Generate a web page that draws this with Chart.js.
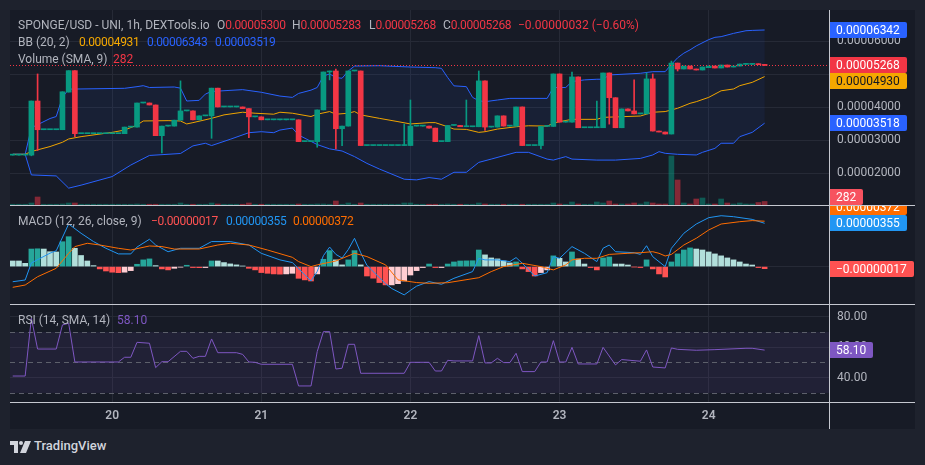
<!DOCTYPE html>
<html>
<head>
<meta charset="utf-8">
<title>SPONGE/USD - UNI, 1h</title>
<script src="https://cdn.jsdelivr.net/npm/chart.js@4.4.1/dist/chart.umd.min.js"></script>
<style>
  html, body { margin:0; padding:0; width:925px; height:465px; overflow:hidden; background:#1e222d; }
  body { position:relative; font-family: Roboto, "Liberation Sans", sans-serif; }
  #panel { position:absolute; left:10px; top:10px; width:905px; height:419px; background:#171b26; }
  canvas { position:absolute; left:10px; }
  .sep { position:absolute; left:10px; width:905px; height:1px; background:#c5c8d0; }
  #vline { position:absolute; left:829px; top:10px; width:1px; height:419px; background:#c5c8d0; }
  .lg { position:absolute; left:0; width:820px; height:16px; font-size:12px; line-height:16px; color:#b2b5be; white-space:pre; }
  .lg > span { position:absolute; top:0; }
  .lg b { font-weight:normal; }
  .num { letter-spacing:-0.35px; }
  .r { color:#f23645; }
  .bl { color:#2962ff; }
  .yl { color:#f5a800; }
  .mr { color:#ff5252; }
  .mb { color:#2196f3; }
  .mo { color:#ff6d00; }
  .pu { color:#7e57c2; }
  #tvlogo { position:absolute; left:10px; top:441px; }
  #tvtext { position:absolute; left:34px; top:438px; font-size:13px; font-weight:500; color:#d1d4dc; line-height:16px; }
</style>
</head>
<body>
<div id="panel"></div>
<canvas id="cMain" width="905" height="195" style="top:10px"></canvas>
<canvas id="cMacd" width="905" height="98" style="top:206px"></canvas>
<canvas id="cRsi" width="905" height="124" style="top:305px"></canvas>
<div class="sep" style="top:205px"></div>
<div class="sep" style="top:304px"></div>
<div class="sep" style="top:402px"></div>
<div id="vline"></div>

<div class="lg" style="top:17px">
  <span style="left:18px">SPONGE/USD - UNI, 1h, DEXTools.io</span>
  <span style="left:217px">O<b class="r num">0.00005300</b></span>
  <span style="left:292px">H<b class="r num">0.00005283</b></span>
  <span style="left:369px">L<b class="r num">0.00005268</b></span>
  <span style="left:443px">C<b class="r num">0.00005268</b></span>
  <span class="r" style="left:518px">−0.00000032 (−0.60%)</span>
</div>
<div class="lg" style="top:34px">
  <span style="left:18px">BB (20, 2)</span>
  <span class="yl num" style="left:79px">0.00004931</span>
  <span class="bl num" style="left:147px">0.00006343</span>
  <span class="bl num" style="left:215px">0.00003519</span>
</div>
<div class="lg" style="top:51px">
  <span style="left:18px">Volume (SMA, 9)</span>
  <span class="r" style="left:113px">282</span>
</div>
<div class="lg" style="top:213px">
  <span style="left:18px">MACD (12, 26, close, 9)</span>
  <span class="mr num" style="left:151px">−0.00000017</span>
  <span class="mb num" style="left:226px">0.00000355</span>
  <span class="mo num" style="left:293px">0.00000372</span>
</div>
<div class="lg" style="top:312px">
  <span style="left:18px">RSI (14, SMA, 14)</span>
  <span class="pu" style="left:117px">58.10</span>
</div>

<svg id="tvlogo" width="22" height="12" viewBox="0 0 22 12">
  <path d="M0 0H8V12H4V4H0Z" fill="#d1d4dc"/>
  <circle cx="11" cy="2" r="2" fill="#d1d4dc"/>
  <path d="M15 0H21L16 12H10Z" fill="#d1d4dc"/>
</svg>
<div id="tvtext">TradingView</div>

<script>
// ---------------- DATA (prices in units of 0.00001, MACD in units of 0.000001) ----------------
const PRICE_UNIT = 1e-5;
const MACD_UNIT = 1e-6;

// hourly candles, index 0 = 19th 08:00 ... index 121 = 24th 09:00
const dayIdx = [16, 40, 64, 88, 112];
const dayLabels = ['20', '21', '22', '23', '24'];
const priceTicks = [2, 3, 4, 5, 6];
const rsiTicks = [40, 60, 80];
const rsiLevels = [70, 50, 30];

const opens = [
  2.55,2.55,2.55,2.55,4.19,3.32,3.32,3.32,3.32,4.46,
  5.11,3.20,3.20,3.20,3.20,3.20,3.20,3.20,3.20,3.40,
  3.40,4.13,4.13,4.07,3.14,3.43,3.43,3.61,3.89,3.89,
  3.62,3.74,3.74,4.58,4.01,4.01,4.01,4.01,3.96,3.71,
  3.71,3.62,3.62,3.62,3.62,3.62,3.62,2.96,2.96,2.96,
  3.92,5.07,5.10,3.35,3.43,5.10,5.10,2.84,2.84,2.84,
  2.84,2.84,2.84,2.84,2.84,3.43,3.43,3.43,3.37,2.96,
  2.96,3.45,3.45,3.41,3.41,3.41,4.80,3.40,3.40,3.74,
  3.43,3.43,4.01,2.84,2.84,2.84,3.42,3.42,5.01,3.55,
  3.55,4.92,3.38,3.38,3.38,3.38,5.04,4.29,3.38,3.95,
  3.89,3.80,3.80,4.86,3.28,3.25,3.19,5.34,5.16,5.25,
  5.16,5.13,5.20,5.25,5.19,5.28,5.22,5.25,5.30,5.30,
  5.32,5.30
];
const highs = [
  2.55,2.55,2.55,4.19,5.01,3.32,3.32,3.32,4.47,5.11,
  5.11,3.20,3.20,3.20,3.20,3.20,3.20,3.20,3.40,3.40,
  4.13,4.13,4.13,4.07,3.43,3.43,3.61,4.80,3.89,3.89,
  3.74,3.74,4.58,4.58,4.01,4.01,4.01,4.01,3.96,3.71,
  3.71,3.62,3.62,3.62,3.62,3.62,3.62,2.96,2.96,3.92,
  5.07,5.10,5.16,3.43,5.10,5.10,5.10,2.84,2.84,2.84,
  2.84,2.84,2.84,3.49,4.22,3.43,3.43,3.43,3.37,2.96,
  3.45,3.45,3.45,4.22,3.41,5.10,4.80,3.40,3.74,3.74,
  3.43,4.01,4.01,2.84,2.84,3.42,3.42,5.01,5.01,3.55,
  5.07,4.92,3.38,3.38,4.19,5.04,5.04,4.29,3.95,3.95,
  4.83,3.80,5.04,5.01,3.28,3.25,5.40,5.34,5.25,5.25,
  5.16,5.22,5.25,5.25,5.28,5.28,5.25,5.31,5.32,5.31,
  5.32,5.30
];
const lows = [
  2.55,2.55,2.55,2.53,2.69,3.32,3.32,3.32,3.32,4.46,
  3.11,3.20,3.20,3.20,3.20,3.20,3.20,3.20,3.20,3.40,
  3.40,4.13,4.07,3.14,2.62,3.43,3.43,3.61,3.89,3.62,
  3.62,3.74,3.06,4.01,4.01,4.01,4.01,3.96,3.08,3.71,
  3.62,3.62,3.62,3.62,3.62,3.62,2.96,2.96,2.96,2.79,
  3.92,4.83,2.74,2.84,3.43,5.10,2.84,2.84,2.84,2.84,
  2.84,2.84,2.84,2.84,2.84,3.43,3.43,3.37,2.96,2.96,
  2.96,3.45,3.41,3.41,3.41,3.41,3.30,3.40,3.40,3.43,
  3.43,3.43,2.84,2.84,2.84,2.74,3.42,3.42,3.55,3.55,
  3.55,3.38,3.38,3.38,3.38,3.38,3.49,3.38,3.38,3.89,
  3.80,3.80,3.80,3.28,3.25,3.19,3.19,5.10,5.16,5.16,
  5.13,5.13,5.20,5.19,5.19,5.22,5.22,5.25,5.30,5.30,
  5.29,5.268
];
const closes = [
  2.55,2.55,2.55,4.19,3.32,3.32,3.32,3.32,4.47,5.11,
  3.20,3.20,3.20,3.20,3.20,3.20,3.20,3.20,3.40,3.40,
  4.13,4.13,4.07,3.14,3.43,3.43,3.61,3.89,3.89,3.62,
  3.74,3.74,4.58,4.01,4.01,4.01,4.01,3.96,3.71,3.71,
  3.62,3.62,3.62,3.62,3.62,3.62,2.96,2.96,2.96,3.92,
  5.07,5.10,3.35,3.43,5.10,5.10,2.84,2.84,2.84,2.84,
  2.84,2.84,2.84,2.84,3.43,3.43,3.43,3.37,2.96,2.96,
  3.45,3.45,3.41,3.41,3.41,4.80,3.40,3.40,3.74,3.43,
  3.43,4.01,2.84,2.84,2.84,3.42,3.42,5.01,3.55,3.55,
  4.92,3.38,3.38,3.38,3.38,5.04,4.29,3.38,3.95,3.89,
  3.80,3.80,4.86,3.28,3.25,3.19,5.34,5.16,5.25,5.16,
  5.13,5.22,5.25,5.19,5.28,5.22,5.25,5.31,5.32,5.31,
  5.29,5.268
];
const volumes = [
  60,60,60,160,640,60,60,60,80,160,
  160,60,60,60,60,60,60,60,60,60,
  80,60,60,60,60,60,60,160,60,60,
  60,60,160,80,60,60,60,60,160,60,
  60,60,60,60,60,60,80,60,60,80,
  80,60,320,60,160,60,160,60,60,60,
  60,60,60,160,160,60,60,60,60,60,
  80,60,60,60,60,160,80,60,60,60,
  60,60,60,60,60,60,60,160,80,60,
  240,80,60,60,240,160,320,80,80,80,
  160,80,240,160,80,80,3920,2000,160,80,
  480,560,80,80,480,160,80,160,80,80,
  200,282
];

// Bollinger Bands (20, 2): [candle index, value] read at the vertices of each line
const bbUpperPts = [
  [0,2.575],[2,2.575],[3,3.38],[6,3.66],[7,3.72],[8,4.30],[9,4.55],[18,4.575],[20,4.625],[21,4.655],
  [22,4.60],[26,4.615],[27,4.58],[28,4.19],[30,4.21],[31,4.40],[32,4.48],[37,4.535],[40,4.455],[43,4.34],
  [45,4.30],[46,4.42],[48,4.52],[49,4.60],[50,4.95],[51,5.01],[52,4.90],[53,4.88],[54,5.10],[55,5.25],
  [59,5.26],[64,5.22],[68,5.20],[69,5.18],[70,4.90],[71,4.65],[73,4.625],[74,4.30],[75,4.20],[76,4.17],
  [78,4.22],[80,4.27],[86,4.27],[87,4.60],[89,4.60],[90,4.78],[92,4.83],[94,4.85],[95,4.85],[96,4.98],
  [101,5.03],[103,5.08],[105,5.08],[106,5.30],[107,5.50],[108,5.64],[109,5.74],[110,5.86],[112,6.05],[113,6.12],
  [114,6.14],[116,6.24],[118,6.32],[119,6.33],[121,6.342]
];
const bbBasisPts = [
  [0,2.575],[2,2.575],[3,2.66],[6,2.81],[8,2.94],[9,3.04],[11,3.11],[16,3.24],[18,3.31],[20,3.46],
  [21,3.585],[25,3.595],[27,3.585],[28,3.495],[29,3.535],[32,3.665],[34,3.77],[37,3.85],[39,3.82],[42,3.79],
  [43,3.85],[45,3.82],[48,3.72],[49,3.79],[51,3.87],[52,3.79],[54,3.82],[55,3.87],[56,3.77],[59,3.665],
  [62,3.565],[64,3.495],[67,3.535],[68,3.535],[70,3.41],[71,3.34],[73,3.33],[75,3.24],[76,3.26],[78,3.34],
  [81,3.41],[83,3.44],[86,3.43],[87,3.515],[88,3.565],[90,3.635],[94,3.635],[95,3.695],[98,3.715],[101,3.735],
  [103,3.85],[105,3.87],[107,3.97],[109,4.12],[110,4.17],[112,4.30],[114,4.50],[116,4.555],[117,4.655],[119,4.755],
  [121,4.93]
];
const bbLowerPts = [
  [0,2.575],[2,2.575],[3,1.95],[7,1.92],[9,1.55],[11,1.64],[16,1.90],[19,2.25],[22,2.54],[27,2.60],
  [29,2.83],[31,2.91],[32,2.84],[35,3.03],[38,3.23],[40,3.26],[42,3.23],[43,3.31],[45,3.37],[46,3.16],
  [49,2.87],[51,2.74],[53,2.675],[55,2.505],[57,2.30],[59,2.13],[63,1.82],[65,1.80],[67,1.87],[69,1.82],
  [71,2.03],[73,2.03],[75,2.33],[77,2.43],[81,2.635],[83,2.635],[86,2.43],[87,2.40],[89,2.505],[90,2.43],
  [94,2.40],[97,2.40],[101,2.45],[103,2.555],[104,2.655],[105,2.605],[107,2.575],[110,2.555],[111,2.635],[113,2.755],
  [114,2.91],[116,2.91],[117,3.11],[119,3.24],[121,3.518]
];

// MACD (12, 26, close, 9)
const macdHist = [
  0.46,0.46,0.27,1.44,1.46,1.44,1.22,1.20,2.04,2.45,
  1.50,0.91,0.46,0.08,-0.19,-0.36,-0.46,-0.50,-0.46,-0.33,
  0.19,0.55,0.63,0.08,-0.19,-0.27,-0.14,-0.05,0.11,-0.08,
  -0.09,-0.08,0.46,0.46,0.33,0.22,0.14,0.05,-0.14,-0.27,
  -0.49,-0.55,-0.60,-0.62,-0.60,-0.55,-0.96,-1.09,-1.18,-0.60,
  0.60,1.31,0.55,0.14,0.55,1.31,0.14,-0.77,-0.95,-1.31,
  -1.50,-1.50,-1.40,-1.18,-0.69,-0.33,-0.08,0.21,-0.08,-0.08,
  0.21,0.38,0.46,0.47,0.48,1.36,0.96,0.71,0.63,0.46,
  0.30,0.38,-0.19,-0.41,-0.77,-0.49,-0.27,0.88,0.68,0.38,
  1.20,0.63,0.21,-0.08,-0.27,0.71,0.79,0.21,0.21,0.13,
  -0.03,-0.08,0.55,-0.19,-0.60,-0.85,0.38,1.04,1.36,1.53,
  1.44,1.36,1.20,1.04,0.88,0.71,0.55,0.38,0.21,0.13,
  -0.08,-0.17
];
const macdLinePts = [
  [0,-1.24],[2,-1.10],[3,0.30],[6,1.10],[7,1.30],[9,3.49],[11,2.73],[13,2.05],[15,1.50],[17,1.04],
  [19,1.04],[20,1.60],[22,2.24],[23,1.77],[25,1.22],[27,1.50],[30,1.50],[32,2.05],[35,2.05],[38,1.77],
  [40,1.09],[43,0.55],[45,0.33],[48,-1.18],[49,-0.40],[50,0.90],[51,1.60],[52,1.00],[53,0.70],[54,1.40],
  [55,2.32],[56,1.14],[57,0.10],[59,-0.90],[60,-1.40],[61,-1.80],[63,-2.32],[64,-1.95],[65,-1.60],[67,-1.23],
  [69,-1.45],[71,-0.96],[74,-0.41],[75,0.68],[76,0.55],[78,0.55],[80,0.41],[81,0.74],[82,0.27],[84,-0.77],
  [86,-0.50],[87,0.81],[88,0.68],[90,1.64],[92,1.09],[94,0.41],[95,1.50],[96,1.77],[97,1.22],[100,1.14],
  [101,1.00],[102,1.71],[103,0.81],[105,0.00],[106,1.50],[108,2.73],[110,3.49],[112,4.01],[114,4.17],[116,4.09],
  [119,3.87],[121,3.55]
];
const signalPts = [
  [0,-1.70],[2,-1.51],[4,-0.83],[7,-0.14],[9,1.09],[10,1.64],[12,1.91],[14,1.77],[17,1.50],[19,1.36],
  [22,1.69],[24,1.64],[26,1.44],[30,1.44],[33,1.77],[35,1.91],[38,1.77],[41,1.36],[45,0.76],[46,0.41],
  [48,0.00],[49,0.14],[52,0.46],[55,1.09],[57,0.82],[60,0.14],[62,-1.09],[65,-1.31],[67,-1.37],[70,-1.32],
  [75,-0.91],[77,-0.41],[79,0.00],[82,0.27],[85,0.00],[87,-0.27],[89,0.14],[90,0.55],[92,0.68],[94,0.68],
  [96,1.00],[99,1.09],[101,1.14],[103,1.22],[104,1.09],[105,0.87],[106,1.00],[108,1.77],[110,2.32],[112,3.00],
  [114,3.49],[117,3.68],[119,3.77],[121,3.72]
];

// RSI (14)
const rsiPts = [
  [0,41.1],[2,41.1],[3,79.0],[4,58.8],[7,58.8],[8,74.6],[9,75.7],[10,50.3],[17,50.3],[18,53.4],
  [19,53.4],[20,63.2],[22,62.6],[23,46.6],[24,50.5],[25,50.5],[27,57.3],[28,57.3],[29,52.7],[30,54.0],
  [31,54.0],[32,65.4],[33,56.4],[36,56.4],[37,55.3],[38,50.3],[39,50.1],[40,48.8],[45,48.8],[46,34.6],
  [48,34.6],[49,57.1],[50,70.2],[51,70.2],[52,45.7],[53,46.2],[54,61.9],[55,61.9],[56,42.9],[63,42.9],
  [64,50.1],[67,50.1],[68,44.4],[69,44.4],[70,51.4],[71,51.0],[74,51.0],[75,67.6],[76,49.7],[77,49.7],
  [78,52.7],[79,49.9],[80,49.9],[81,56.0],[82,44.0],[84,44.0],[85,50.3],[86,50.3],[87,64.3],[88,50.3],
  [89,50.3],[90,59.9],[91,49.0],[94,49.0],[95,59.9],[97,48.4],[98,51.9],[101,50.8],[102,58.2],[103,47.0],
  [105,46.4],[106,59.5],[107,58.6],[110,58.0],[113,58.4],[118,59.3],[119,59.3],[121,58.1]
];

// ---------------- STYLE / LAYOUT ----------------
const FONT = 'Roboto, "Liberation Sans", sans-serif';
const GRID = '#262a36';
const TICK = '#b2b5be';
const UP = '#089981', DOWN = '#f23645';
const VOL_UP = 'rgba(8,153,129,0.5)', VOL_DOWN = 'rgba(242,54,69,0.5)';
const X_MIN = -0.44, X_MAX = 131.36;
const PRICE_MIN = 1.039, PRICE_MAX = 6.948, VOL_MAX = 15600;
const MACD_MIN = -3.066, MACD_MAX = 4.967;
const RSI_MIN = 24.07, RSI_MAX = 87.67;
const AXIS_W = 86;

const idx = opens.map((_, i) => i);
const lastOf = a => a[a.length - 1];
const isUp = i => closes[i] >= opens[i];
const candleColors = idx.map(i => isUp(i) ? UP : DOWN);
const fmtPrice = v => (v * PRICE_UNIT).toFixed(8);
const fmtMacd = v => { const s = (Math.abs(v) * MACD_UNIT).toFixed(8); return (v < 0 ? '\u2212' : '') + s; };
const pts = arr => arr.map(([x, y]) => ({ x, y }));

const histColors = macdHist.map((v, i) => {
  const prev = i > 0 ? macdHist[i - 1] : v;
  if (v >= 0) return v > prev ? '#26a69a' : '#b2dfdb';
  return v < prev ? '#ff5252' : '#ffcdd2';
});

function xScale(showLabels) {
  return {
    type: 'linear', min: X_MIN, max: X_MAX, offset: false,
    grid: { color: GRID, drawTicks: false, offset: false },
    border: { display: false },
    ticks: {
      display: showLabels, autoSkip: false, maxRotation: 0, minRotation: 0, padding: 7,
      color: TICK, font: { family: FONT, size: 12, weight: '600' },
      callback: v => { const k = dayIdx.indexOf(v); return k >= 0 ? dayLabels[k] : ''; }
    },
    afterBuildTicks: s => { s.ticks = dayIdx.map(v => ({ value: v })); },
    afterFit: s => { s.height = showLabels ? 27 : 0; s.paddingLeft = 0; s.paddingRight = 0; }
  };
}
function yScale(min, max, ticks, fmt, showLabels) {
  return {
    type: 'linear', position: 'right', min, max,
    grid: { color: GRID, drawTicks: false },
    border: { display: false },
    ticks: { display: showLabels, padding: 8, color: TICK, font: { family: FONT, size: 12 }, callback: fmt },
    afterBuildTicks: s => { s.ticks = ticks.map(v => ({ value: v })); },
    afterFit: s => { s.width = AXIS_W; s.paddingTop = 0; s.paddingBottom = 0; }
  };
}

// ---------------- PLUGINS ----------------
const bandFill = {
  id: 'bandFill',
  beforeDatasetsDraw(chart, args, o) {
    if (o.upper === undefined) return;
    const up = chart.getDatasetMeta(o.upper).data, lo = chart.getDatasetMeta(o.lower).data;
    const ctx = chart.ctx, ca = chart.chartArea;
    ctx.save();
    ctx.beginPath(); ctx.rect(ca.left, ca.top, ca.width, ca.height); ctx.clip();
    ctx.beginPath();
    up.forEach((p, k) => k ? ctx.lineTo(p.x, p.y) : ctx.moveTo(p.x, p.y));
    for (let k = lo.length - 1; k >= 0; k--) ctx.lineTo(lo[k].x, lo[k].y);
    ctx.closePath();
    ctx.fillStyle = o.color; ctx.fill();
    ctx.restore();
  }
};
const rsiBand = {
  id: 'rsiBand',
  beforeDatasetsDraw(chart, args, o) {
    if (!o.levels) return;
    const ctx = chart.ctx, ca = chart.chartArea, y = chart.scales.y;
    const yTop = y.getPixelForValue(o.levels[0]), yBot = y.getPixelForValue(o.levels[o.levels.length - 1]);
    ctx.save();
    ctx.fillStyle = o.fill;
    ctx.fillRect(ca.left, yTop, ca.width, yBot - yTop);
    ctx.strokeStyle = o.line; ctx.lineWidth = 1; ctx.setLineDash([5, 4]);
    o.levels.forEach(l => {
      const py = Math.round(y.getPixelForValue(l)) + 0.5;
      ctx.beginPath(); ctx.moveTo(ca.left, py); ctx.lineTo(ca.right, py); ctx.stroke();
    });
    ctx.restore();
  }
};
const priceLine = {
  id: 'priceLine',
  afterDatasetsDraw(chart, args, o) {
    if (o.value === undefined) return;
    const ctx = chart.ctx, ca = chart.chartArea;
    const py = Math.round(chart.scales.y.getPixelForValue(o.value)) + 0.5;
    ctx.save();
    ctx.strokeStyle = o.color; ctx.lineWidth = 1; ctx.setLineDash([1, 2]);
    ctx.beginPath(); ctx.moveTo(ca.left, py); ctx.lineTo(ca.right, py); ctx.stroke();
    ctx.restore();
  }
};
const valueTags = {
  id: 'valueTags',
  afterDraw(chart, args, o) {
    const items = o.items || [];
    const ctx = chart.ctx, ca = chart.chartArea, H = 16;
    ctx.save();
    ctx.font = '12px ' + FONT;
    ctx.textBaseline = 'middle';
    const placed = [];
    items.forEach(it => {
      let y = chart.scales[it.axis].getPixelForValue(it.value);
      placed.forEach(p => { if (Math.abs(y - p) < H) y = (y <= p) ? p - H : p + H; });
      if (it.clampBottom) y = Math.min(y, ca.bottom - H / 2);
      placed.push(y);
      const w = Math.round(ctx.measureText(it.text).width + 14);
      const x = Math.round(ca.right), top = Math.round(y - H / 2);
      ctx.fillStyle = it.bg;
      ctx.beginPath();
      ctx.moveTo(x, top); ctx.lineTo(x + w - 2, top); ctx.quadraticCurveTo(x + w, top, x + w, top + 2);
      ctx.lineTo(x + w, top + H - 2); ctx.quadraticCurveTo(x + w, top + H, x + w - 2, top + H);
      ctx.lineTo(x, top + H); ctx.closePath(); ctx.fill();
      ctx.fillStyle = it.fg;
      ctx.fillText(it.text, x + 7, top + H / 2 + 0.5);
    });
    ctx.restore();
  }
};

const common = {
  responsive: false, animation: false, devicePixelRatio: 1, events: [],
  layout: { padding: 0, autoPadding: false }
};
const lineDs = (data, color, order, yAxisID) => ({
  type: 'line', data: pts(data), borderColor: color, borderWidth: 1, pointRadius: 0,
  tension: 0, fill: false, order, yAxisID
});

// ---------------- MAIN PANE ----------------
new Chart(document.getElementById('cMain'), {
  type: 'bar',
  data: {
    datasets: [
      { type: 'bar', data: idx.map(i => ({ x: i, y: volumes[i] })), yAxisID: 'yVol', grouped: false,
        backgroundColor: idx.map(i => isUp(i) ? VOL_UP : VOL_DOWN), barThickness: 5, order: 6 },
      lineDs(bbUpperPts, '#2962ff', 4, 'y'),
      lineDs(bbLowerPts, '#2962ff', 4, 'y'),
      lineDs(bbBasisPts, '#f0a500', 3, 'y'),
      { type: 'bar', data: idx.map(i => ({ x: i, y: [lows[i], highs[i]] })), yAxisID: 'y', grouped: false,
        backgroundColor: candleColors, barThickness: 1, order: 2 },
      { type: 'bar', data: idx.map(i => ({ x: i, y: [opens[i], closes[i]] })), yAxisID: 'y', grouped: false,
        backgroundColor: candleColors, barThickness: 5, minBarLength: 1, order: 1 }
    ]
  },
  options: {
    ...common,
    scales: {
      x: xScale(false),
      y: yScale(PRICE_MIN, PRICE_MAX, priceTicks, fmtPrice, true),
      yVol: { type: 'linear', display: false, min: 0, max: VOL_MAX }
    },
    plugins: {
      legend: { display: false }, tooltip: { enabled: false },
      bandFill: { upper: 1, lower: 2, color: 'rgba(41,98,255,0.07)' },
      priceLine: { value: lastOf(closes), color: '#f23645' },
      valueTags: { items: [
        { axis: 'y', value: lastOf(bbUpperPts)[1], text: fmtPrice(lastOf(bbUpperPts)[1]), bg: '#2962ff', fg: '#ffffff' },
        { axis: 'y', value: lastOf(closes), text: fmtPrice(lastOf(closes)), bg: '#f23645', fg: '#ffffff' },
        { axis: 'y', value: lastOf(bbBasisPts)[1], text: fmtPrice(lastOf(bbBasisPts)[1]), bg: '#f5a800', fg: '#131722' },
        { axis: 'y', value: lastOf(bbLowerPts)[1], text: fmtPrice(lastOf(bbLowerPts)[1]), bg: '#2962ff', fg: '#ffffff' },
        { axis: 'yVol', value: lastOf(volumes), text: String(lastOf(volumes)), bg: '#f7525f', fg: '#ffffff', clampBottom: true }
      ] }
    }
  },
  plugins: [bandFill, priceLine, valueTags]
});

// ---------------- MACD PANE ----------------
new Chart(document.getElementById('cMacd'), {
  type: 'bar',
  data: {
    datasets: [
      { type: 'bar', data: idx.map(i => ({ x: i, y: macdHist[i] })), grouped: false,
        backgroundColor: histColors, barThickness: 5, order: 3 },
      lineDs(macdLinePts, '#2196f3', 2, 'y'),
      lineDs(signalPts, '#ff6d00', 1, 'y')
    ]
  },
  options: {
    ...common,
    scales: { x: xScale(false), y: yScale(MACD_MIN, MACD_MAX, [0], fmtMacd, false) },
    plugins: {
      legend: { display: false }, tooltip: { enabled: false },
      valueTags: { items: [
        { axis: 'y', value: lastOf(macdHist), text: fmtMacd(lastOf(macdHist)), bg: '#ff5252', fg: '#ffffff' },
        { axis: 'y', value: lastOf(macdLinePts)[1], text: fmtMacd(lastOf(macdLinePts)[1]), bg: '#2196f3', fg: '#ffffff' },
        { axis: 'y', value: lastOf(signalPts)[1], text: fmtMacd(lastOf(signalPts)[1]), bg: '#ff6d00', fg: '#ffffff' }
      ] }
    }
  },
  plugins: [valueTags]
});

// ---------------- RSI PANE ----------------
new Chart(document.getElementById('cRsi'), {
  type: 'line',
  data: { datasets: [ lineDs(rsiPts, '#7e57c2', 1, 'y') ] },
  options: {
    ...common,
    scales: { x: xScale(true), y: yScale(RSI_MIN, RSI_MAX, rsiTicks, v => Number(v).toFixed(2), true) },
    plugins: {
      legend: { display: false }, tooltip: { enabled: false },
      rsiBand: { levels: rsiLevels, fill: 'rgba(126,87,194,0.1)', line: '#5d606b' },
      valueTags: { items: [
        { axis: 'y', value: lastOf(rsiPts)[1], text: lastOf(rsiPts)[1].toFixed(2), bg: '#7e57c2', fg: '#ffffff' }
      ] }
    }
  },
  plugins: [rsiBand, valueTags]
});
</script>
</body>
</html>
